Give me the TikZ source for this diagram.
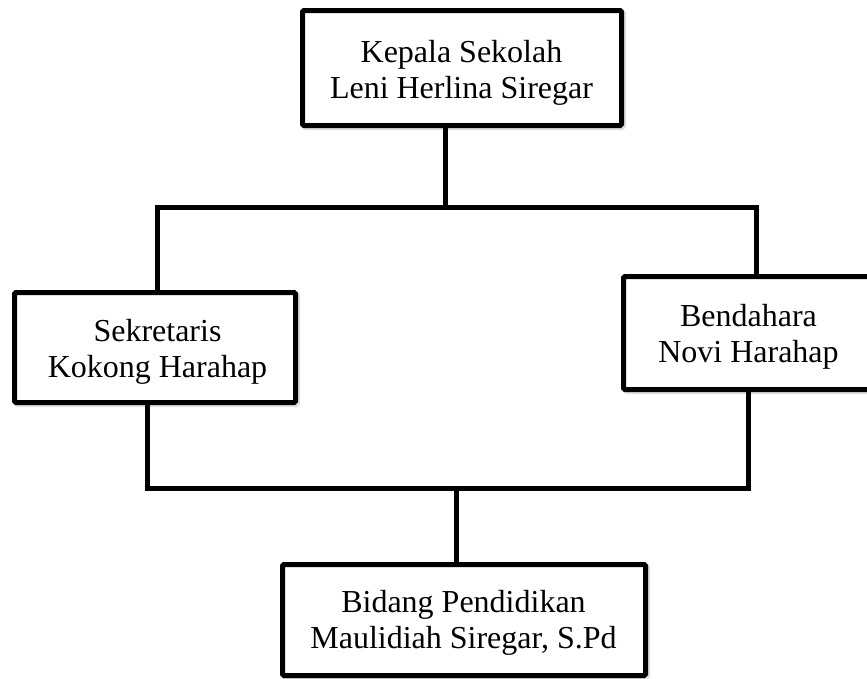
\documentclass[tikz,border=0pt]{standalone}
\usepackage{fontspec}
\setmainfont{Liberation Serif}
\begin{document}
\begin{tikzpicture}[x=1pt,y=-1pt,
  orgbox/.style={draw=black,line width=5pt,rounded corners=1.5pt,fill=white,inner sep=0pt},
  shadowbox/.style={draw=black,line width=5pt,rounded corners=1.5pt,inner sep=0pt,opacity=0.12},
  orgtext/.style={align=center,inner sep=0pt,font={\fontsize{32}{36}\selectfont}},
  link/.style={draw=black,line width=5pt},
  shadowlink/.style={draw=black,line width=5pt,opacity=0.12}]
\useasboundingbox (0,0) rectangle (867,678);
\clip (0,0) rectangle (867,678);
% junction coordinates
\coordinate (j1) at (445,207);
\coordinate (hl) at (157,207);
\coordinate (hr) at (756,207);
\coordinate (bl) at (147,488);
\coordinate (br) at (748,488);
\coordinate (j2) at (456,488);
% shadows
\begin{scope}[shift={(2,2)}]
\node[shadowbox,minimum width=319pt,minimum height=115pt] (topS) at (462,68) {};
\node[shadowbox,minimum width=281pt,minimum height=110pt] (leftS) at (155,347.5) {};
\node[shadowbox,minimum width=250pt,minimum height=113pt] (rightS) at (748.5,333) {};
\node[shadowbox,minimum width=363pt,minimum height=111pt] (botS) at (464,620) {};
\end{scope}
% boxes
\node[orgbox,minimum width=319pt,minimum height=115pt] (top) at (462,68) {};
\node[orgbox,minimum width=281pt,minimum height=110pt] (left) at (155,347.5) {};
\node[orgbox,minimum width=250pt,minimum height=113pt] (right) at (748.5,333) {};
\node[orgbox,minimum width=363pt,minimum height=111pt] (bot) at (464,620) {};
% texts
\node[orgtext] (topT) at (461.5,73) {Kepala Sekolah\\Leni Herlina Siregar};
\node[orgtext] (leftT) at (157.5,351.5) {Sekretaris\\Kokong Harahap};
\node[orgtext] (rightT) at (748.5,336.5) {Bendahara\\Novi Harahap};
\node[orgtext] (botT) at (463.5,622.5) {Bidang Pendidikan\\Maulidiah Siregar, S.Pd};
% connectors
\draw[link] (top.south -| j1) -- (j1);
\draw[link] (left.north -| hl) -- (hl) -- (hr) -- (right.north -| hr);
\draw[link] (left.south -| bl) -- (bl) -- (br) -- (right.south -| br);
\draw[link] (j2) -- (bot.north -| j2);
\end{tikzpicture}
\end{document}
